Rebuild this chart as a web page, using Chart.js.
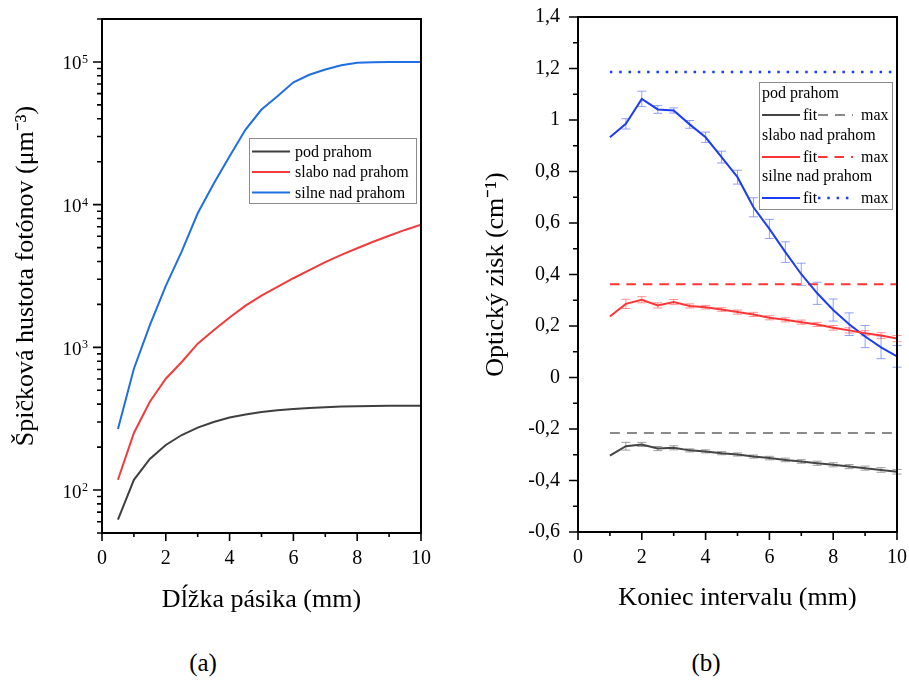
<!DOCTYPE html>
<html>
<head>
<meta charset="utf-8">
<script src="https://cdn.jsdelivr.net/npm/chart.js@4.4.1/dist/chart.umd.min.js"></script>
<style>
  body { margin: 0; background: #fff; width: 909px; height: 682px; position: relative; overflow: hidden; font-family: 'Liberation Serif', serif; }
  canvas { position: absolute; top: 0; }
  #chartA { left: 0; }
  #chartB { left: 455px; }
  .cap { position: absolute; top: 647px; width: 100px; text-align: center; font-size: 25px; line-height: 32px; }
</style>
</head>
<body>
<canvas id="chartA" width="455" height="640"></canvas>
<canvas id="chartB" width="454" height="640"></canvas>
<div class="cap" style="left:153px">(a)</div>
<div class="cap" style="left:656px">(b)</div>
<script>
// (a) peak photon density vs. stripe length
const stripeLen = [0.5, 1, 1.5, 2, 2.5, 3, 3.5, 4, 4.5, 5, 5.5, 6, 6.5, 7, 7.5, 8, 8.5, 9, 9.5, 10];
const peakPod = [62, 118, 165, 207, 243, 274, 300, 322, 338, 352, 362, 370, 376, 381, 385, 387, 388, 389, 390, 390];
const peakSlabo = [118, 251, 416, 603, 790, 1062, 1316, 1620, 1960, 2300, 2650, 3050, 3480, 3950, 4450, 4950, 5500, 6050, 6650, 7240];
const peakSilne = [268, 708, 1430, 2700, 4700, 8700, 14000, 21800, 33600, 46400, 57600, 72100, 81300, 88500, 94900, 98600, 99500, 99800, 100000, 100000];
const logMajor = [100, 1000, 10000, 100000];
const logExponents = ['2', '3', '4', '5'];

// (b) optical gain vs. interval end
const intervalEnd = [1, 1.5, 2, 2.5, 3, 3.5, 4, 4.5, 5, 5.5, 6, 6.5, 7, 7.5, 8, 8.5, 9, 9.5, 10];
const gainPod = [-0.303, -0.267, -0.260, -0.276, -0.273, -0.283, -0.287, -0.294, -0.299, -0.307, -0.313, -0.320, -0.326, -0.333, -0.339, -0.346, -0.352, -0.359, -0.366];
const errPod = [0, 0.015, 0.008, 0.008, 0.008, 0.006, 0.006, 0.006, 0.006, 0.006, 0.007, 0.007, 0.007, 0.008, 0.008, 0.008, 0.008, 0.009, 0.009];
const gainSlabo = [0.237, 0.286, 0.302, 0.280, 0.293, 0.278, 0.273, 0.264, 0.254, 0.245, 0.232, 0.224, 0.215, 0.206, 0.193, 0.183, 0.172, 0.163, 0.151];
const errSlabo = [0, 0.018, 0.012, 0.01, 0.01, 0.008, 0.007, 0.007, 0.008, 0.008, 0.008, 0.008, 0.008, 0.008, 0.009, 0.01, 0.01, 0.011, 0.012];
const gainSilne = [0.933, 0.985, 1.082, 1.041, 1.037, 0.983, 0.933, 0.856, 0.778, 0.661, 0.577, 0.487, 0.401, 0.327, 0.262, 0.207, 0.159, 0.117, 0.082];
const errSilne = [0, 0.02, 0.03, 0.015, 0.01, 0.015, 0.02, 0.023, 0.027, 0.037, 0.037, 0.04, 0.043, 0.043, 0.043, 0.044, 0.043, 0.044, 0.042];
const gainMax = [-0.216, 0.362, 1.186];
const groupNames = ['pod prahom', 'slabo nad prahom', 'silne nad prahom'];

const SERIF = "'Liberation Serif', serif";
Chart.defaults.font.family = SERIF;
Chart.defaults.color = '#000';

const pts = (xs, ys) => xs.map((x, i) => ({ x, y: ys[i] }));

// no extra label overflow padding, the plot box is placed by layout padding
const noPad = s => { s.paddingLeft = 0; s.paddingRight = 0; s.paddingTop = 0; s.paddingBottom = 0; };

// box frame + outward ticks (long for major, short for minor)
const frameTicks = {
  id: 'frameTicks',
  afterDatasetsDraw(chart) {
    const { ctx, chartArea: a, scales } = chart;
    ctx.save();
    ctx.strokeStyle = '#000';
    ctx.lineWidth = 2;
    ctx.strokeRect(a.left, a.top, a.right - a.left, a.bottom - a.top);
    ctx.lineWidth = 1.6;
    ctx.beginPath();
    scales.x.ticks.forEach(t => {
      const px = scales.x.getPixelForValue(t.value);
      ctx.moveTo(px, a.bottom);
      ctx.lineTo(px, a.bottom + (t.label ? 8 : 4));
    });
    scales.y.ticks.forEach(t => {
      const py = scales.y.getPixelForValue(t.value);
      ctx.moveTo(a.left, py);
      ctx.lineTo(a.left - (t.major || t.label ? 9 : 5), py);
    });
    ctx.stroke();
    ctx.restore();
  }
};

// 10^n labels for the log axis
const powLabels = {
  id: 'powLabels',
  afterDraw(chart) {
    const { ctx, chartArea: a, scales: { y } } = chart;
    ctx.save();
    ctx.fillStyle = '#000';
    ctx.textBaseline = 'alphabetic';
    logMajor.forEach((v, i) => {
      const py = y.getPixelForValue(v);
      ctx.font = '12px ' + SERIF;
      const we = ctx.measureText(logExponents[i]).width;
      const xe = a.left - 14 - we;
      ctx.fillText(logExponents[i], xe, py + 1);
      ctx.font = '19px ' + SERIF;
      ctx.textAlign = 'right';
      ctx.fillText('10', xe - 0.5, py + 7.5);
      ctx.textAlign = 'left';
    });
    ctx.restore();
  }
};

const errorBars = {
  id: 'errorBars',
  beforeDatasetsDraw(chart) {
    const { ctx, scales: { x, y } } = chart;
    chart.data.datasets.forEach(ds => {
      if (!ds.errors) return;
      ctx.save();
      ctx.strokeStyle = ds.errorColor;
      ctx.lineWidth = 1;
      ctx.beginPath();
      ds.data.forEach((p, i) => {
        const e = ds.errors[i];
        if (!e) return;
        const px = x.getPixelForValue(p.x);
        const y1 = y.getPixelForValue(p.y + e);
        const y2 = y.getPixelForValue(p.y - e);
        ctx.moveTo(px, y1); ctx.lineTo(px, y2);
        ctx.moveTo(px - 4.5, y1); ctx.lineTo(px + 4.5, y1);
        ctx.moveTo(px - 4.5, y2); ctx.lineTo(px + 4.5, y2);
      });
      ctx.stroke();
      ctx.restore();
    });
  }
};

function sample(ctx, ds, x1, x2, y) {
  ctx.save();
  ctx.strokeStyle = ds.borderColor;
  ctx.lineWidth = ds.borderWidth;
  ctx.setLineDash(ds.borderDash || []);
  ctx.beginPath();
  ctx.moveTo(x1, y);
  ctx.lineTo(x2, y);
  ctx.stroke();
  ctx.restore();
}

const boxLegend = {
  id: 'boxLegend',
  afterDraw(chart, args, opts) {
    const { ctx } = chart;
    const dss = chart.data.datasets;
    ctx.save();
    ctx.strokeStyle = '#8c8c8c';
    ctx.lineWidth = 1;
    ctx.strokeRect(opts.box[0] + 0.5, opts.box[1] + 0.5, opts.box[2], opts.box[3]);
    ctx.font = '16px ' + SERIF;
    ctx.fillStyle = '#000';
    ctx.textBaseline = 'middle';
    const x0 = opts.box[0];
    if (opts.kind === 'simple') {
      dss.forEach((ds, i) => {
        const y = opts.rows[i];
        sample(ctx, ds, x0 + 3, x0 + 41, y);
        ctx.fillText(ds.label, x0 + 46, y + 1);
      });
    } else {
      groupNames.forEach((name, g) => {
        const y = opts.rows[g];
        ctx.fillText(name, x0 + 3, y);
        const fit = dss[g], mx = dss[g + 3];
        sample(ctx, fit, x0 + 3, x0 + 41, y + 21);
        ctx.fillText('fit', x0 + 44, y + 22);
        sample(ctx, mx, x0 + 59, x0 + 94, y + 21);
        ctx.fillText('max', x0 + 102, y + 22);
      });
    }
    ctx.restore();
  }
};

const titleFont = { family: SERIF, size: 26 };
const tickFont = { family: SERIF, size: 20 };

const lineDs = (label, xs, ys, color) => ({
  label, data: pts(xs, ys), borderColor: color, borderWidth: 2,
  pointRadius: 0, tension: 0, fill: false
});

new Chart(document.getElementById('chartA'), {
  type: 'line',
  data: {
    datasets: [
      lineDs('pod prahom', stripeLen, peakPod, '#3f3f3f'),
      lineDs('slabo nad prahom', stripeLen, peakSlabo, '#f03c3c'),
      lineDs('silne nad prahom', stripeLen, peakSilne, '#1f6fe3')
    ]
  },
  options: {
    responsive: false,
    animation: false,
    layout: { padding: { top: 19, right: 34, left: 0, bottom: 0 } },
    scales: {
      x: {
        type: 'linear', min: 0, max: 10,
        afterFit: s => { noPad(s); s.height = 107; },
        grid: { display: false, drawTicks: false },
        border: { display: false },
        ticks: { stepSize: 1, autoSkip: false, maxRotation: 0, padding: 14, font: tickFont,
          callback: v => (v % 2 === 0 ? String(v) : '') },
        title: { display: true, text: 'Dĺžka pásika (mm)', font: titleFont, padding: { top: 0, bottom: 24 } }
      },
      y: {
        type: 'logarithmic', min: 50, max: 200000,
        afterFit: s => { noPad(s); s.width = 102; },
        afterBuildTicks: s => {
          const list = [];
          for (let d = 10; d <= 100000; d *= 10) {
            for (let k = 1; k <= 9; k++) {
              const v = d * k;
              if (v >= 50 && v <= 200000) list.push({ value: v, major: k === 1 });
            }
          }
          list.push({ value: 200000, major: false });
          s.ticks = list;
        },
        grid: { display: false, drawTicks: false },
        border: { display: false },
        ticks: { autoSkip: false, padding: 15, font: tickFont, callback: () => '' },
        title: { display: true, text: 'Špičková hustota fotónov (μm⁻³)', font: titleFont, padding: { top: 11, bottom: 0 } }
      }
    },
    plugins: {
      legend: { display: false },
      tooltip: { enabled: false },
      boxLegend: { kind: 'simple', box: [249, 138, 167, 65], rows: [151.5, 172, 192.5] }
    }
  },
  plugins: [frameTicks, powLabels, boxLegend]
});

const fitDs = (label, ys, errs, color, errColor) => Object.assign(
  lineDs(label, intervalEnd, ys, color), { errors: errs, errorColor: errColor });
const maxDs = (label, v, color, dash, width) => ({
  label, data: [{ x: 1, y: v }, { x: 10, y: v }], borderColor: color, borderWidth: width,
  borderDash: dash, pointRadius: 0, fill: false
});

new Chart(document.getElementById('chartB'), {
  type: 'line',
  data: {
    datasets: [
      fitDs('pod prahom fit', gainPod, errPod, '#454545', 'rgba(120,120,120,0.7)'),
      fitDs('slabo nad prahom fit', gainSlabo, errSlabo, '#ff3535', 'rgba(255,110,110,0.75)'),
      fitDs('silne nad prahom fit', gainSilne, errSilne, '#1c3ef0', 'rgba(110,130,245,0.75)'),
      maxDs('pod prahom max', gainMax[0], '#8a8a8a', [10, 7], 2),
      maxDs('slabo nad prahom max', gainMax[1], '#ff3535', [9.5, 7], 2),
      maxDs('silne nad prahom max', gainMax[2], '#1c3ef0', [2.5, 6.8], 2.5)
    ]
  },
  options: {
    responsive: false,
    animation: false,
    layout: { padding: { top: 17, right: 12, left: 0, bottom: 0 } },
    scales: {
      x: {
        type: 'linear', min: 0, max: 10,
        afterFit: s => { noPad(s); s.height = 108; },
        grid: { display: false, drawTicks: false },
        border: { display: false },
        ticks: { stepSize: 1, autoSkip: false, maxRotation: 0, padding: 14, font: tickFont,
          callback: v => (v % 2 === 0 ? String(v) : '') },
        title: { display: true, text: 'Koniec intervalu (mm)', font: titleFont, padding: { top: 0, bottom: 26 } }
      },
      y: {
        type: 'linear', min: -0.6, max: 1.4,
        afterFit: s => { noPad(s); s.width = 123; },
        afterBuildTicks: s => {
          const list = [];
          for (let i = -6; i <= 14; i++) list.push({ value: i / 10 });
          s.ticks = list;
        },
        grid: { display: false, drawTicks: false },
        border: { display: false },
        ticks: { autoSkip: false, padding: 18, font: tickFont,
          callback: v => { const k = Math.round(v * 10); return k % 2 === 0 ? String(k / 10).replace('.', ',') : ''; } },
        title: { display: true, text: 'Optický zisk (cm⁻¹)', font: titleFont, padding: { top: 26, bottom: 0 } }
      }
    },
    plugins: {
      legend: { display: false },
      tooltip: { enabled: false },
      boxLegend: { kind: 'groups', box: [304, 82, 133, 127], rows: [94, 136, 177] }
    }
  },
  plugins: [errorBars, frameTicks, boxLegend]
});
</script>
</body>
</html>
